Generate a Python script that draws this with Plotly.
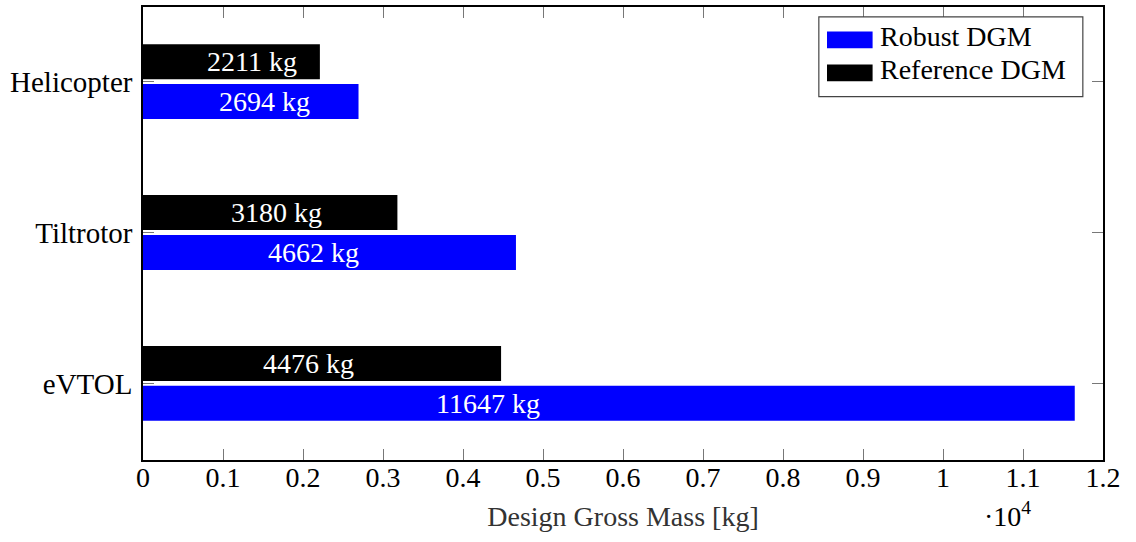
import plotly.graph_objects as go

# Design gross mass per configuration (kg)
categories = ["eVTOL", "Tiltrotor", "Helicopter"]
robust_dgm = [11647, 4662, 2694]
reference_dgm = [4476, 3180, 2211]

x_tickvals = [0, 1000, 2000, 3000, 4000, 5000, 6000, 7000, 8000, 9000, 10000, 11000, 12000]
x_ticktext = ["0", "0.1", "0.2", "0.3", "0.4", "0.5", "0.6", "0.7", "0.8", "0.9", "1", "1.1", "1.2"]

BLUE = "#0000ff"
BLACK = "#000000"
FONT = "Liberation Serif"
FS = 28

pos = list(range(len(categories)))
bar_w = 0.232
off = 0.132

fig = go.Figure()
fig.add_trace(go.Bar(
    y=[p - off for p in pos], x=robust_dgm, orientation="h", width=bar_w,
    marker=dict(color=BLUE, line=dict(width=0)), name="Robust DGM", showlegend=False,
))
fig.add_trace(go.Bar(
    y=[p + off for p in pos], x=reference_dgm, orientation="h", width=bar_w,
    marker=dict(color=BLACK, line=dict(width=0)), name="Reference DGM", showlegend=False,
))

# value labels inside the bars
for p, v in zip(pos, robust_dgm):
    fig.add_annotation(x=675 + 0.3126 * v, y=p - off, text=f"{v} kg", showarrow=False,
                       font=dict(family=FONT, size=FS, color="white"), xanchor="center", yanchor="middle")
for p, v in zip(pos, reference_dgm):
    fig.add_annotation(x=675 + 0.3126 * v, y=p + off, text=f"{v} kg", showarrow=False,
                       font=dict(family=FONT, size=FS, color="white"), xanchor="center", yanchor="middle")

# scale factor next to the x axis
fig.add_annotation(xref="paper", yref="paper", x=0.90, y=-0.12, text="·10<sup>4</sup>",
                   showarrow=False, font=dict(family=FONT, size=FS, color="black"),
                   xanchor="center", yanchor="middle")

# legend box drawn by hand for wide swatches
fig.add_shape(type="rect", xref="paper", yref="paper", x0=0.704, x1=0.979,
              y0=0.802, y1=0.978, line=dict(color="#444", width=1.2), fillcolor="white", layer="above")
fig.add_shape(type="rect", xref="paper", yref="paper", x0=0.7125, x1=0.760,
              y0=0.909, y1=0.946, line=dict(width=0), fillcolor=BLUE, layer="above")
fig.add_shape(type="rect", xref="paper", yref="paper", x0=0.7125, x1=0.760,
              y0=0.836, y1=0.873, line=dict(width=0), fillcolor=BLACK, layer="above")
fig.add_annotation(xref="paper", yref="paper", x=0.766, y=0.934, text="Robust DGM", showarrow=False,
                   font=dict(family=FONT, size=FS, color="black"), xanchor="left", yanchor="middle")
fig.add_annotation(xref="paper", yref="paper", x=0.766, y=0.861, text="Reference DGM", showarrow=False,
                   font=dict(family=FONT, size=FS, color="black"), xanchor="left", yanchor="middle")

fig.update_layout(
    width=1136, height=542,
    margin=dict(l=143, r=33, t=5, b=82),
    plot_bgcolor="white", paper_bgcolor="white",
    barmode="overlay",
    font=dict(family=FONT, size=FS, color="black"),
    showlegend=False,
)
fig.update_xaxes(
    range=[0, 12000], tickvals=x_tickvals, ticktext=x_ticktext,
    ticks="inside", ticklen=11, tickcolor="#777", tickwidth=1,
    showline=True, linecolor="black", linewidth=1.5, mirror="ticks",
    showgrid=False, zeroline=False, ticklabelstandoff=-8,
    tickfont=dict(family=FONT, size=FS, color="black"),
    title=dict(text="Design Gross Mass [kg]", font=dict(family=FONT, size=FS, color="#333"), standoff=14),
)
fig.update_yaxes(
    range=[-0.508, 2.495], tickvals=pos, ticktext=categories,
    ticks="inside", ticklen=11, tickcolor="#777", tickwidth=1,
    showline=True, linecolor="black", linewidth=1.5, mirror="ticks",
    showgrid=False, zeroline=False, ticklabelstandoff=3,
    tickfont=dict(family=FONT, size=29, color="black"),
)

fig.write_html("out.html")
